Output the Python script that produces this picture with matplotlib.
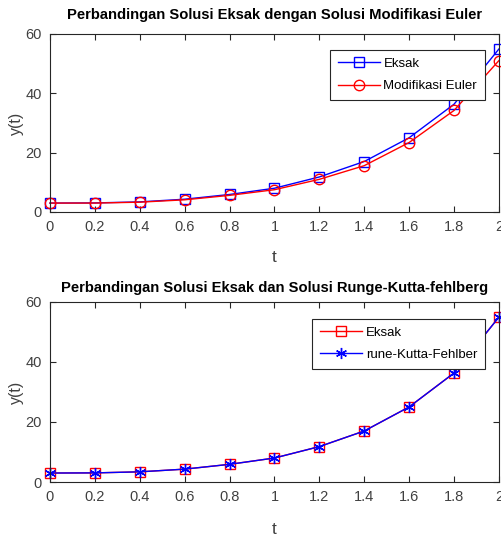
import matplotlib
matplotlib.use("Agg")
import matplotlib.pyplot as plt

t = [0, 0.2, 0.4, 0.6, 0.8, 1.0, 1.2, 1.4, 1.6, 1.8, 2.0]
eksak = [3.0, 3.05, 3.4, 4.3, 5.9, 8.0, 11.8, 17.0, 25.0, 36.3, 54.9]
euler = [3.0, 3.0, 3.3, 4.1, 5.6, 7.5, 11.0, 15.6, 23.4, 34.2, 51.0]
rkf = [3.0, 3.05, 3.4, 4.3, 5.9, 8.0, 11.8, 17.0, 25.0, 36.3, 54.9]
xticks = [0, 0.2, 0.4, 0.6, 0.8, 1, 1.2, 1.4, 1.6, 1.8, 2]
xticklabels = ['0', '0.2', '0.4', '0.6', '0.8', '1', '1.2', '1.4', '1.6', '1.8', '2']
yticks = [0, 20, 40, 60]

plt.rcParams['font.family'] = ['Liberation Sans', 'DejaVu Sans']
grey = '#262626'

fig = plt.figure(figsize=(5.01, 5.38), dpi=100)
ax1 = fig.add_axes([0.0998, 0.606, 0.896, 0.331])
ax2 = fig.add_axes([0.0998, 0.104, 0.896, 0.335])


def style(ax, title, tpad, xpad):
    ax.set_xlim(0, 2)
    ax.set_ylim(0, 60)
    ax.set_xticks(xticks)
    ax.set_xticklabels(xticklabels)
    ax.set_yticks(yticks)
    ax.tick_params(direction='in', top=True, right=True, length=4,
                   labelsize=10.5, colors=grey, labelcolor='#404040', pad=6)
    for s in ax.spines.values():
        s.set_color(grey)
        s.set_linewidth(0.8)
    ax.set_xlabel('t', fontsize=12.5, color='#404040', labelpad=xpad)
    ax.set_ylabel('y(t)', fontsize=11.5, color='#404040', labelpad=1)
    ax.set_title(title, fontsize=10.6, fontweight='bold', pad=tpad)


def legend(ax, top):
    leg = ax.legend(loc='upper right', bbox_to_anchor=(0.969, top), fontsize=9.5,
                    fancybox=False, framealpha=1, edgecolor=grey,
                    handlelength=3.2, borderpad=0.6, labelspacing=0.75,
                    handletextpad=0.25, borderaxespad=0)
    leg.get_frame().set_linewidth(0.8)


ax1.plot(t, eksak, color='blue', marker='s', mfc='none', ms=7, lw=1,
         label='Eksak', clip_on=False)
ax1.plot(t, euler, color='red', marker='o', mfc='none', ms=7.5, lw=1,
         label='Modifikasi Euler', clip_on=False)
style(ax1, 'Perbandingan Solusi Eksak dengan Solusi Modifikasi Euler', 11, 11)
legend(ax1, 0.91)

ax2.plot(t, eksak, color='red', marker='s', mfc='none', ms=7, lw=1,
         label='Eksak', clip_on=False)
ax2.plot(t, rkf, color='blue', marker=(6, 2, 0), ms=8, lw=1, mew=1,
         label='rune-Kutta-Fehlber', clip_on=False)
style(ax2, 'Perbandingan Solusi Eksak dan Solusi Runge-Kutta-fehlberg', 7, 13)
legend(ax2, 0.906)

fig.savefig('out.png', dpi=100)
